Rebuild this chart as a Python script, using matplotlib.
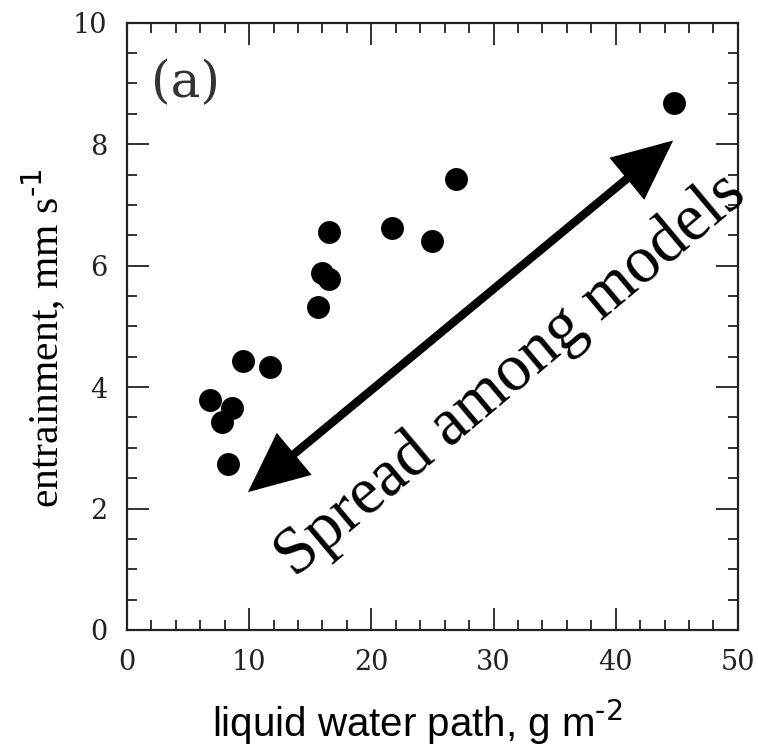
import numpy as np
import matplotlib.pyplot as plt
from matplotlib.ticker import MultipleLocator

# liquid water path (g m-2) and entrainment (mm s-1), one point per model
lwp = [44.8, 26.9, 21.7, 24.97, 16.5, 16.0, 16.55, 15.6, 9.48, 11.7, 6.77, 8.6, 7.8, 8.25]
entr = [8.67, 7.42, 6.62, 6.40, 6.56, 5.88, 5.78, 5.32, 4.43, 4.33, 3.79, 3.65, 3.43, 2.73]

xticks = [0, 10, 20, 30, 40, 50]
yticks = [0, 2, 4, 6, 8, 10]

# ends of the "spread" arrow
arrow_lo = (9.9, 2.27)
arrow_hi = (44.7, 8.06)

fig = plt.figure(figsize=(7.58, 7.49), dpi=100)
ax = fig.add_axes([0.1675, 0.1589, 0.806, 0.8108])

ax.plot(lwp, entr, 'o', color='black', markersize=16.5, markeredgewidth=0)

ax.set_xlim(0, 50)
ax.set_ylim(0, 10)
ax.set_xticks(xticks)
ax.set_yticks(yticks)
ax.xaxis.set_minor_locator(MultipleLocator(2))
ax.yaxis.set_minor_locator(MultipleLocator(0.5))
ax.tick_params(which='both', direction='in', top=True, right=True, width=1.3, color='#222222')
ax.tick_params(which='major', length=16, pad=14, labelsize=19.5, labelcolor='#222222')
ax.tick_params(which='minor', length=7.5)
for lab in ax.get_xticklabels() + ax.get_yticklabels():
    lab.set_family('DejaVu Serif')
for sp in ax.spines.values():
    sp.set_linewidth(1.6)
    sp.set_color('#222222')

ax.text(2.0, 9.0, '(a)', fontsize=36, family='DejaVu Serif', color='#333333',
        ha='left', va='center')

ax.annotate('', xy=arrow_lo, xytext=arrow_hi,
            arrowprops=dict(arrowstyle='<|-|>,head_length=1.1,head_width=0.5',
                            mutation_scale=30, lw=6, color='black',
                            shrinkA=0, shrinkB=0, joinstyle='miter'))

ax.text(31.4, 4.19, 'Spread among models', fontsize=48, family='Liberation Serif',
        rotation=40, rotation_mode='anchor', ha='center', va='center')

fig.text(44 / 758, 1 - 338 / 749, 'entrainment, mm s$^{\\text{-1}}$', fontsize=30,
         family='Liberation Serif', rotation=90, ha='center', va='center')
fig.text(417 / 758, 1 - 722 / 749, 'liquid water path, g m$^{\\text{-2}}$', fontsize=29,
         family='Liberation Sans', ha='center', va='center')

fig.savefig('out.png', dpi=100)
